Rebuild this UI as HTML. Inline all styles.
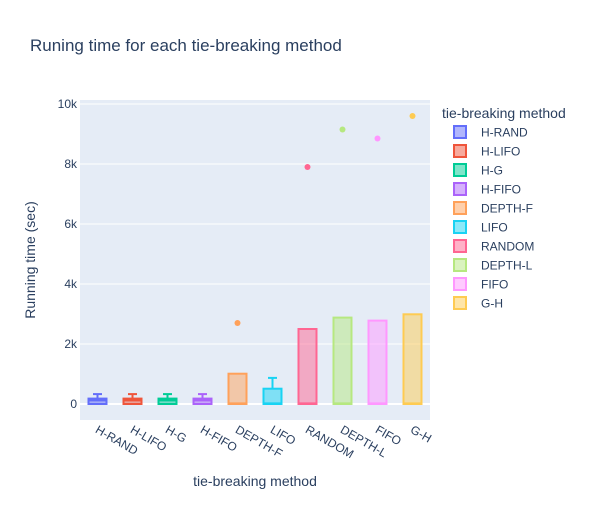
<!DOCTYPE html>
<html><head><meta charset="utf-8"><style>
body{margin:0;background:#fff;font-family:"Liberation Sans",Arial,sans-serif}
svg text{font-family:"Liberation Sans",Arial,sans-serif;fill:#2a3f5f}
</style></head><body>
<svg id="c" width="600" height="500">
<rect x="0" y="0" width="600" height="500" fill="#fff"/>
<text x="30" y="51" font-size="17">Runing time for each tie-breaking method</text>
<rect x="80" y="100" width="350" height="320" fill="#e5ecf6"/>
<g id="grid"></g><g id="marks"></g><g id="legend"></g>
<text x="255" y="486" font-size="14" text-anchor="middle">tie-breaking method</text>
<text transform="translate(35,260) rotate(-90)" font-size="14" text-anchor="middle">Running time (sec)</text>
</svg>
<script>
const categories=["H-RAND","H-LIFO","H-G","H-FIFO","DEPTH-F","LIFO","RANDOM","DEPTH-L","FIFO","G-H"];
const q1=[0,0,0,0,0,0,0,0,0,0];
const median=[120,120,120,120,20,20,20,20,20,20];
const q3=[180,180,180,180,1010,510,2500,2880,2780,2990];
const whiskerHigh=[330,330,330,330,1010,870,2500,2880,2780,2990];
const outliers=[null,null,null,null,2700,null,7900,9150,8850,9600];
const colors=["#636efa","#EF553B","#00cc96","#ab63fa","#FFA15A","#19d3f3","#FF6692","#B6E880","#FF97FF","#FECB52"];
const yTicks=[0,2000,4000,6000,8000,10000];
const yTickLabels=["0","2k","4k","6k","8k","10k"];
const NS="http://www.w3.org/2000/svg";
const y=v=>404-v*0.03;
const x=i=>80+35*(i+0.5);
function mk(tag,attrs,parent){const e=document.createElementNS(NS,tag);for(const k in attrs)e.setAttribute(k,attrs[k]);document.getElementById(parent).appendChild(e);return e;}
yTicks.forEach((t,i)=>{
 const g=mk('line',{x1:80,x2:430,y1:y(t),y2:y(t),stroke:'#fff','stroke-width':t===0?2:1},'grid');
 
 
 const tx=mk('text',{x:77,y:y(t)+4,'font-size':12,'text-anchor':'end'},'grid');tx.textContent=yTickLabels[i];
 
 
});
categories.forEach((c,i)=>{
 const cx=x(i),w=18,col=colors[i];
 const ww=mk('line',{x1:cx,x2:cx,y1:y(q3[i]),y2:y(whiskerHigh[i]),stroke:col,'stroke-width':2},'marks');
 
 
 if(whiskerHigh[i]>q3[i]){const cap=mk('line',{x1:cx-4.5,x2:cx+4.5,y1:y(whiskerHigh[i]),y2:y(whiskerHigh[i]),stroke:col,'stroke-width':2},'marks');
 
 }
 const b=mk('rect',{x:cx-w/2,y:y(q3[i]),width:w,height:Math.max(1,y(q1[i])-y(q3[i])),fill:col,'fill-opacity':0.5,stroke:col,'stroke-width':2},'marks');
 
 
 const m=mk('line',{x1:cx-w/2,x2:cx+w/2,y1:y(median[i]),y2:y(median[i]),stroke:col,'stroke-width':2},'marks');
 
 
 if(outliers[i]!==null){const o=mk('circle',{cx:cx,cy:y(outliers[i]),r:3,fill:col},'marks');
 
 }
 const t=mk('text',{transform:`translate(${cx-3},${432}) rotate(30)`,'font-size':12,'text-anchor':'start'},'marks');t.textContent=c;
 
 
 const ly=132+19*i;
 const sw=mk('rect',{x:454,y:ly-6,width:12,height:12,fill:col,'fill-opacity':0.5,stroke:col,'stroke-width':2},'legend');
 
 
 const lt=mk('text',{x:481,y:ly+4.5,'font-size':12},'legend');lt.textContent=c;
 
 
});
const lt=mk('text',{x:442,y:118,'font-size':14},'legend');lt.textContent='tie-breaking method';


</script>
</body></html>
